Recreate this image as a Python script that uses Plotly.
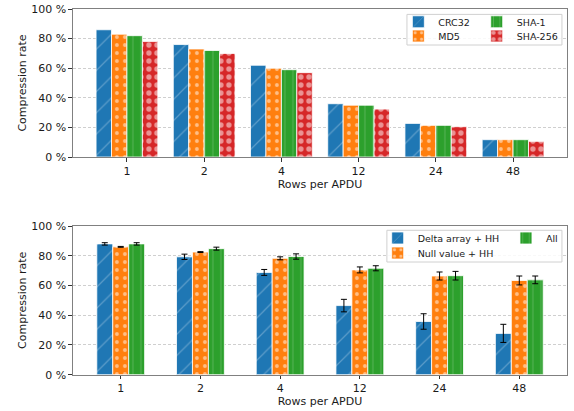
import plotly.graph_objects as go

categories = ["1", "2", "4", "12", "24", "48"]

# Top chart: compression rate (%) per checksum
top_names = ["CRC32", "MD5", "SHA-1", "SHA-256"]
crc32 = [86, 76, 62, 36, 22.7, 11.7]
md5 = [83, 73, 60, 35, 21.4, 11.7]
sha1 = [82, 72, 59, 35, 21.4, 11.7]
sha256 = [78, 70, 57, 32.4, 20.5, 10.6]
top_values = [crc32, md5, sha1, sha256]

# Bottom chart: compression rate (%) per technique, with error
bot_names = ["Delta array + HH", "Null value + HH", "All"]
delta_hh = [88, 79.3, 68.8, 46.5, 35.8, 27.8]
delta_err = [0.8, 1.8, 2.0, 4.2, 5.2, 6.1]
null_hh = [86, 82.5, 78.3, 70.5, 66.4, 63.4]
null_err = [0.3, 0.3, 1.0, 2.0, 2.7, 3.0]
all_tech = [88, 84.8, 79.5, 71.6, 66.6, 63.8]
all_err = [0.8, 1.0, 1.8, 1.7, 2.9, 2.6]
bot_values = [delta_hh, null_hh, all_tech]
bot_errors = [delta_err, null_err, all_err]

blue, orange, green, red = "#1f77b4", "#ff7f0e", "#2ca02c", "#d62728"

styles = [
    dict(color=blue, pattern=dict(shape="/", fgcolor="rgba(255,255,255,0.55)", size=15, solidity=0.08)),
    dict(color=orange, pattern=dict(shape=".", fgcolor="white", size=8, solidity=0.18)),
    dict(color=green, pattern=dict(shape="|", fgcolor="rgba(255,255,255,0.35)", size=8, solidity=0.15)),
    dict(color=red, pattern=dict(shape=".", fgcolor="white", size=8, solidity=0.35)),
]

BAR_W = 0.2
fig = go.Figure()

top_leg = [("legend", 0.694, 0.947), ("legend3", 0.694, 0.9124),
           ("legend2", 0.8305, 0.947), ("legend4", 0.8305, 0.9124)]
n = len(top_names)
for i, (name, vals, st) in enumerate(zip(top_names, top_values, styles)):
    fig.add_trace(go.Bar(
        x=categories, y=vals, name=name, showlegend=True,
        width=BAR_W, offset=-n * BAR_W / 2 + i * BAR_W,
        marker=dict(color=st["color"], pattern=st["pattern"],
                    line=dict(color="white", width=0.8)),
        legend=top_leg[i][0], xaxis="x", yaxis="y",
    ))

bot_leg = [("legend5", 0.658, 0.4209), ("legend6", 0.658, 0.3844), ("legend7", 0.8815, 0.4209)]
n = len(bot_names)
for i, (name, vals, errs, st) in enumerate(zip(bot_names, bot_values, bot_errors, styles)):
    fig.add_trace(go.Bar(
        x=categories, y=vals, name=name, showlegend=True,
        width=BAR_W, offset=-n * BAR_W / 2 + i * BAR_W,
        marker=dict(color=st["color"], pattern=st["pattern"],
                    line=dict(color="white", width=0.8)),
        error_y=dict(type="data", array=errs, color="black", thickness=1, width=3),
        legend=bot_leg[i][0], xaxis="x2", yaxis="y2",
    ))

font_main = dict(family="DejaVu Sans", size=11, color="#1a1a1a")
leg_font = dict(family="DejaVu Sans", size=9.5, color="#1a1a1a")

legends = {}
for name, x, y in top_leg + bot_leg:
    legends[name] = dict(x=x, y=y, xanchor="left", yanchor="middle", visible=True,
                         bgcolor="rgba(0,0,0,0)", borderwidth=0, font=leg_font,
                         tracegroupgap=0)

axis_common = dict(showline=True, mirror=True, linecolor="#808080", linewidth=1,
                   ticks="outside", ticklen=3.5, tickwidth=0.8, tickcolor="#333333",
                   tickfont=font_main, automargin=False)
yaxis_common = dict(range=[0, 100], dtick=20, ticksuffix=" %",
                    showgrid=True, gridcolor="#cfcfcf", griddash="3px,2px", gridwidth=0.7,
                    zeroline=False, **axis_common)

fig.update_layout(
    width=574, height=411,
    margin=dict(l=0, r=0, t=0, b=0),
    paper_bgcolor="white", plot_bgcolor="white",
    barmode="overlay", showlegend=True,
    font=font_main,
    **legends,
    xaxis=dict(domain=[0.127, 0.988], range=[-0.7, 5.7], type="category", anchor="y",
               title=dict(text="Rows per APDU", font=font_main, standoff=0),
               showgrid=False, **axis_common),
    yaxis=dict(domain=[0.618, 0.978], anchor="x",
               title=dict(text="Compression rate", font=font_main, standoff=2),
               **yaxis_common),
    xaxis2=dict(domain=[0.127, 0.988], range=[-0.6, 5.6], type="category", anchor="y2",
                title=dict(text="Rows per APDU", font=font_main, standoff=0),
                showgrid=False, **axis_common),
    yaxis2=dict(domain=[0.0883, 0.450], anchor="x2",
                title=dict(text="Compression rate", font=font_main, standoff=2),
                **yaxis_common),
)

# legend frames
fig.add_shape(type="rect", xref="paper", yref="paper", x0=0.709, x1=0.979, y0=0.8905, y1=0.965,
              fillcolor="rgba(255,255,255,0.85)", line=dict(color="#d0d0d0", width=1), layer="above")
fig.add_shape(type="rect", xref="paper", yref="paper", x0=0.674, x1=0.979, y0=0.3625, y1=0.4397,
              fillcolor="rgba(255,255,255,0.85)", line=dict(color="#d0d0d0", width=1), layer="above")

fig.write_html("out.html", config={"displayModeBar": False},
               post_script="document.body.style.margin='0';document.body.style.overflow='hidden';")
